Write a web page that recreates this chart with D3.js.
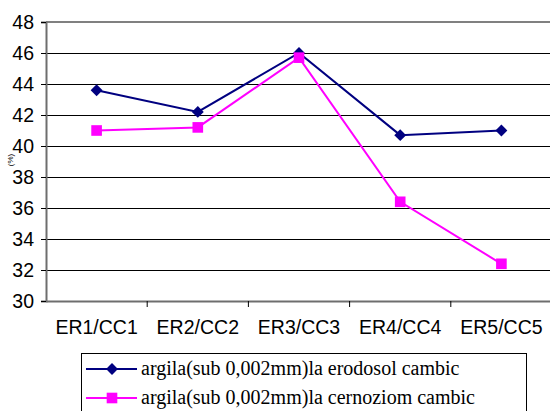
<!DOCTYPE html>
<html>
<head>
<meta charset="utf-8">
<script src="https://cdn.jsdelivr.net/npm/d3@7"></script>
<style>
  body { margin: 0; background: #fff; }
  svg { display: block; }
</style>
</head>
<body>
<div id="chart"></div>
<script>
const categories = ["ER1/CC1", "ER2/CC2", "ER3/CC3", "ER4/CC4", "ER5/CC5"];
const erodosol = [43.6, 42.2, 46.0, 40.7, 41.0];
const cernoziom = [41.0, 41.2, 45.7, 36.4, 32.4];
const yTicks = [30, 32, 34, 36, 38, 40, 42, 44, 46, 48];
const seriesNames = [
  "argila(sub 0,002mm)la erodosol cambic",
  "argila(sub 0,002mm)la cernoziom cambic"
];

const SANS = "'Liberation Sans', Arial, sans-serif";
const SERIF = "'Liberation Serif', 'Times New Roman', serif";

const width = 550, height = 411;
const svg = d3.select("#chart").append("svg")
    .attr("width", width)
    .attr("height", height);

const plot = {left: 46, right: 552, top: 22, bottom: 301};

const x = d3.scaleBand().domain(categories).range([plot.left, plot.right]);
const y = d3.scaleLinear().domain([30, 48]).range([plot.bottom, plot.top]);

// gridlines
svg.append("g").selectAll("line")
    .data(yTicks.slice(1, -1))
    .join("line")
    .attr("x1", plot.left).attr("x2", width)
    .attr("y1", d => y(d)).attr("y2", d => y(d))
    .attr("stroke", "#000").attr("stroke-width", 1)
    .attr("shape-rendering", "crispEdges");

// top border
svg.append("line")
    .attr("x1", plot.left).attr("x2", width)
    .attr("y1", y(48)).attr("y2", y(48))
    .attr("stroke", "#808080").attr("stroke-width", 2);

// y axis
const yAxis = svg.append("g")
    .attr("transform", `translate(${plot.left},0)`)
    .call(d3.axisLeft(y).tickValues(yTicks).tickSize(5).tickPadding(7));
yAxis.select(".domain").attr("stroke", "#6e6e6e").attr("stroke-width", 2);
yAxis.selectAll(".tick line").attr("stroke", "#000");
yAxis.selectAll("text")
    .style("font-family", SANS)
    .style("font-size", "19.5px").attr("fill", "#000");

// x axis
const xAxis = svg.append("g")
    .attr("transform", `translate(0,${plot.bottom})`)
    .call(d3.axisBottom(x).tickSize(0).tickPadding(19));
xAxis.select(".domain").attr("stroke", "#6e6e6e").attr("stroke-width", 2);
xAxis.selectAll("text")
    .style("font-family", SANS)
    .style("font-size", "19.5px").attr("fill", "#000");
xAxis.selectAll(".sep")
    .data(categories.slice(1))
    .join("line")
    .attr("class", "sep")
    .attr("x1", d => x(d)).attr("x2", d => x(d))
    .attr("y1", 0).attr("y2", 6)
    .attr("stroke", "#000");

// y unit label
svg.append("text")
    .attr("transform", "translate(13,160) rotate(-90)")
    .attr("text-anchor", "middle")
    .style("font-family", SANS)
    .style("font-size", "8px")
    .text("(%)");

const cx = d => x(d) + x.bandwidth() / 2;
const line = d3.line().x((d, i) => cx(categories[i])).y(d => y(d));

const diamond = d3.symbol().type(d3.symbolDiamond2).size(90);
const square = d3.symbol().type(d3.symbolSquare2).size(144);

const series = [
  {values: erodosol, color: "#000080", symbol: diamond},
  {values: cernoziom, color: "#ff00ff", symbol: square}
];

series.forEach(s => {
  svg.append("path")
      .datum(s.values)
      .attr("d", line)
      .attr("fill", "none")
      .attr("stroke", s.color)
      .attr("stroke-width", 2);
  svg.append("g").selectAll("path")
      .data(s.values)
      .join("path")
      .attr("transform", (d, i) => `translate(${cx(categories[i])},${y(d)})`)
      .attr("d", s.symbol)
      .attr("fill", s.color);
});

// legend
const legend = svg.append("g");
legend.append("rect")
    .attr("x", 81.5).attr("y", 353.5)
    .attr("width", 445).attr("height", 70)
    .attr("fill", "#fff").attr("stroke", "#000");
series.forEach((s, i) => {
  const ly = 369 + i * 29;
  legend.append("line")
      .attr("x1", 86).attr("x2", 137)
      .attr("y1", ly).attr("y2", ly)
      .attr("stroke", s.color).attr("stroke-width", 2);
  legend.append("path")
      .attr("transform", `translate(112,${ly})`)
      .attr("d", s.symbol)
      .attr("fill", s.color);
  legend.append("text")
      .attr("x", 141).attr("y", ly + 6)
      .style("font-family", SERIF)
      .style("font-size", "20px")
      .text(seriesNames[i]);
});
</script>
</body>
</html>
